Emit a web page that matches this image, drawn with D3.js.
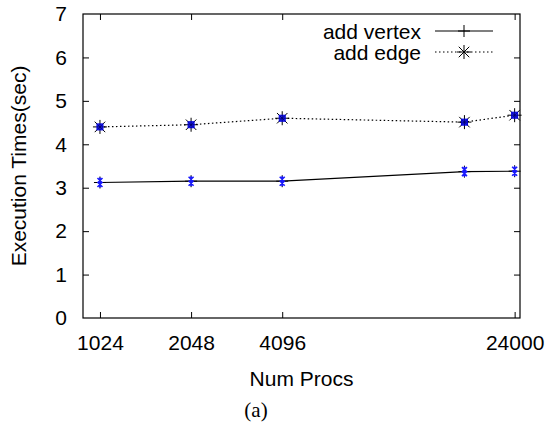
<!DOCTYPE html>
<html>
<head>
<meta charset="utf-8">
<script src="https://cdn.jsdelivr.net/npm/d3@7/dist/d3.min.js"></script>
<style>
  html, body { margin: 0; padding: 0; background: #fff; }
  svg text { font-family: "Liberation Sans", Arial, sans-serif; fill: #000; }
</style>
</head>
<body>
<svg id="chart" width="552" height="428"></svg>
<script>
// Processor counts and measured times (seconds)
const procs = [1024, 2048, 4096, 16384, 24000];
const addVertex = [3.12, 3.15, 3.15, 3.37, 3.38];
const addEdge = [4.40, 4.45, 4.60, 4.51, 4.67];
const xTicks = [1024, 2048, 4096, 24000];
const yTicks = [0, 1, 2, 3, 4, 5, 6, 7];
const seriesNames = ["add vertex", "add edge"];

const svg = d3.select("#chart");
const margin = { left: 83, top: 14, right: 32, bottom: 110 };
const W = 552, H = 428;
const x0 = margin.left, x1 = W - margin.right, y0 = H - margin.bottom, y1 = margin.top;
const FS = 21;

const x = d3.scaleLog().base(2).domain([900, 25000]).range([x0, x1]);
const y = d3.scaleLinear().domain([0, 7]).range([y0, y1]);

const tickLen = 6;
const g = svg.append("g");

// frame
g.append("rect").attr("x", x0).attr("y", y1).attr("width", x1 - x0).attr("height", y0 - y1)
  .attr("fill", "none").attr("stroke", "#000").attr("stroke-width", 1.2);

// axes with inward, mirrored ticks
const yAxisL = d3.axisLeft(y).tickValues(yTicks).tickSize(-tickLen).tickPadding(16).tickFormat(d3.format("d"));
const yAxisR = d3.axisRight(y).tickValues(yTicks).tickSize(-tickLen).tickFormat("");
const xAxisB = d3.axisBottom(x).tickValues(xTicks).tickSize(-tickLen).tickPadding(17).tickFormat(d3.format("d"));
const xAxisT = d3.axisTop(x).tickValues(xTicks).tickSize(-tickLen).tickFormat("");

function styleAxis(sel) {
  sel.select(".domain").remove();
  sel.selectAll(".tick line").attr("stroke", "#000").attr("stroke-width", 1);
  sel.selectAll(".tick text").attr("font-size", FS).attr("font-family", "Liberation Sans, Arial, sans-serif").attr("fill", "#000");
}
g.append("g").attr("transform", `translate(${x0},0)`).call(yAxisL).call(styleAxis);
g.append("g").attr("transform", `translate(${x1},0)`).call(yAxisR).call(styleAxis);
g.append("g").attr("transform", `translate(0,${y0})`).call(xAxisB).call(styleAxis);
g.append("g").attr("transform", `translate(0,${y1})`).call(xAxisT).call(styleAxis);
// drop the end ticks that sit on the frame corners
g.selectAll(".tick").filter(d => d === 0 || d === 7).select("line").remove();

// axis titles
svg.append("text").attr("x", (x0 + x1) / 2).attr("y", 386).attr("text-anchor", "middle")
  .attr("font-size", FS).text("Num Procs");
svg.append("text").attr("transform", "translate(26,166) rotate(-90)").attr("text-anchor", "middle")
  .attr("font-size", FS).text("Execution Times(sec)");
svg.append("text").attr("x", 256).attr("y", 417).attr("text-anchor", "middle")
  .attr("font-size", 21).style("font-family", "'Liberation Serif', 'DejaVu Serif', serif").text("(a)");

// marker shapes
function plusPath(cx, cy, r) {
  return `M${cx - r},${cy}H${cx + r}M${cx},${cy - r}V${cy + r}`;
}
function starPath(cx, cy, r) {
  const d = r * 0.75;
  return plusPath(cx, cy, r) + `M${cx - d},${cy - d}L${cx + d},${cy + d}M${cx - d},${cy + d}L${cx + d},${cy - d}`;
}

const line = d3.line().x(d => x(d[0])).y(d => y(d[1]));
const vData = procs.map((p, i) => [p, addVertex[i]]);
const eData = procs.map((p, i) => [p, addEdge[i]]);

g.append("path").attr("d", line(vData)).attr("fill", "none").attr("stroke", "#000").attr("stroke-width", 1.2);
g.append("path").attr("d", line(eData)).attr("fill", "none").attr("stroke", "#000").attr("stroke-width", 1.2)
  .attr("stroke-dasharray", "1.5,2.5");

// black markers
g.selectAll(".mv").data(vData).enter().append("path")
  .attr("d", d => plusPath(x(d[0]), y(d[1]), 6)).attr("stroke", "#000").attr("stroke-width", 1);
g.selectAll(".me").data(eData).enter().append("path")
  .attr("d", d => starPath(x(d[0]), y(d[1]), 7)).attr("stroke", "#000").attr("stroke-width", 1);

// blue overlay points
g.selectAll(".bv").data(vData).enter().append("path")
  .attr("d", d => {
    const cx = x(d[0]), cy = y(d[1]);
    return `M${cx - 2.5},${cy - 4.5}L${cx + 2.5},${cy + 0.5}M${cx - 2.5},${cy + 0.5}L${cx + 2.5},${cy - 4.5}` +
           `M${cx - 2.5},${cy - 0.5}L${cx + 2.5},${cy + 4.5}M${cx - 2.5},${cy + 4.5}L${cx + 2.5},${cy - 0.5}` +
           `M${cx},${cy - 5}V${cy + 5}`;
  })
  .attr("stroke", "#1a1aff").attr("stroke-width", 1.6).attr("fill", "none");
g.selectAll(".be").data(eData).enter().append("rect")
  .attr("x", d => x(d[0]) - 3).attr("y", d => y(d[1]) - 3).attr("width", 6).attr("height", 6)
  .attr("fill", "#2020ff").attr("stroke", "#0000dd").attr("stroke-width", 1);
g.selectAll(".be2").data(eData).enter().append("path")
  .attr("d", d => starPath(x(d[0]), y(d[1]), 3)).attr("stroke", "#000066").attr("stroke-width", 0.8);

// legend
const leg = svg.append("g");
const legRows = [
  { name: seriesNames[0], y: 31, dash: null, marker: plusPath, r: 6 },
  { name: seriesNames[1], y: 52, dash: "1.5,2.5", marker: starPath, r: 7 }
];
legRows.forEach(r => {
  leg.append("text").attr("x", 421).attr("y", r.y + 8).attr("text-anchor", "end")
    .attr("font-size", FS).text(r.name);
  leg.append("line").attr("x1", 435).attr("x2", 493).attr("y1", r.y).attr("y2", r.y)
    .attr("stroke", "#000").attr("stroke-width", 1.2).attr("stroke-dasharray", r.dash);
  leg.append("path").attr("d", r.marker(464, r.y, r.r))
    .attr("stroke", "#000").attr("stroke-width", 1);
});
</script>
</body>
</html>
